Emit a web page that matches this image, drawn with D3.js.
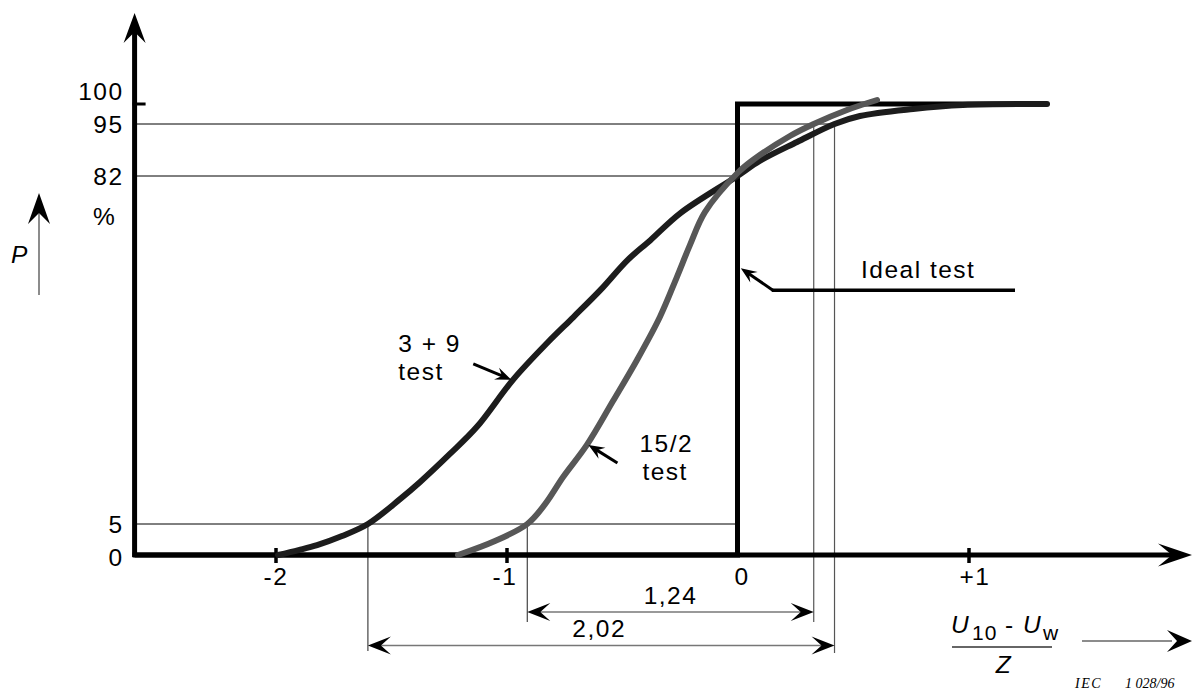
<!DOCTYPE html>
<html>
<head>
<meta charset="utf-8">
<script src="https://cdn.jsdelivr.net/npm/d3@7"></script>
<style>
  html, body { margin: 0; padding: 0; background: #fff; }
  svg { display: block; font-family: "Liberation Sans", Arial, sans-serif; }
  .lbl { font-size: 24.5px; letter-spacing: 1.5px; fill: #000; }
</style>
</head>
<body>
<svg id="chart" width="1196" height="692"></svg>
<script>
// Probability of passing P (%) versus the normalised withstand margin (U10 - Uw) / Z

// axis ticks
const xTicks = [-2, -1, 0, 1];
const xTickLabels = ["-2", "-1", "0", "+1"];
const yLevels = [0, 5, 82, 95, 100];
const yLevelLabels = ["0", "5", "82", "95", "100"];

// "3 + 9 test" characteristic
const test39X = [-1.989, -1.90, -1.820, -1.712, -1.60, -1.461, -1.374, -1.245, -1.128, -0.972, -0.823, -0.71, -0.593, -0.476, -0.377, -0.247, 0, 0.096, 0.258, 0.42, 0.53, 0.76, 0.976, 1.34];
const test39P = [0, 0.8, 1.6, 3.06, 5, 10.5, 14.3, 20.5, 26.5, 36.9, 45.1, 50.8, 56.8, 63.4, 67.8, 73.8, 82, 85.75, 90.5, 95, 97, 98.75, 99.75, 100];

// "15/2 test" characteristic
const test152X = [-1.21, -1.05, -0.91, -0.833, -0.755, -0.652, -0.539, -0.435, -0.336, -0.262, -0.206, -0.141, 0, 0.067, 0.227, 0.33, 0.474, 0.604];
const test152P = [0, 2.26, 5, 9.4, 15.4, 22.5, 32.2, 41.3, 50.8, 59.7, 66.7, 74.0, 82.75, 86, 92, 95, 98.5, 101];

// ideal test: step at zero
const idealX = [-2.61, 0, 0, 1.34];
const idealP = [0, 0, 100, 100];

// 5 % to 95 % spread of each test
const spreadNames = ["15/2", "3 + 9"];
const spreadLabels = ["1,24", "2,02"];
const spreadStart = [-0.91, -1.60];
const spreadWidth = [1.24, 2.02];

// curve annotations: where each arrow points on its curve
const noteNames = ["3 + 9 test", "15/2 test", "Ideal test"];
const noteX = [-0.975, -0.654, 0.01];
const noteP = [36.9, 22.5, 61.6];

const svg = d3.select("#chart");

// scales (the drawing is stretched non-uniformly in P)
const x = d3.scaleLinear().domain([-2, 1]).range([275.5, 968.5]);
const y = d3.scaleLinear().domain(yLevels).range([555, 524, 176, 124, 104]);

const xLeft = -2.61;
const axisX = x(xLeft);
const axisY = y(0);

// notched arrowhead pointing along +x, tip at origin
function dart(len, half, notch) {
  return `M0,0 L${-len},${-half} L${-notch},0 L${-len},${half} Z`;
}
function arrowHead(g, tx, ty, angleDeg, len, half, notch, fill) {
  g.append("path")
    .attr("d", dart(len, half, notch))
    .attr("transform", `translate(${tx},${ty}) rotate(${angleDeg})`)
    .attr("fill", fill || "#000");
}

// ---- thin reference lines ----
const ref = svg.append("g");
const sIdx152 = 0, sIdx39 = 1;
const x5_152 = x(spreadStart[sIdx152]);
const x95_152 = x(spreadStart[sIdx152] + spreadWidth[sIdx152]);
const x5_39 = x(spreadStart[sIdx39]);
const x95_39 = x(spreadStart[sIdx39] + spreadWidth[sIdx39]);

// horizontal levels
ref.append("line").attr("x1", axisX).attr("x2", x95_39).attr("y1", y(95)).attr("y2", y(95))
  .attr("stroke", "#000").attr("stroke-width", 1);
ref.append("line").attr("x1", axisX).attr("x2", x(0)).attr("y1", y(82)).attr("y2", y(82))
  .attr("stroke", "#000").attr("stroke-width", 1);
ref.append("line").attr("x1", axisX).attr("x2", x(0)).attr("y1", y(5)).attr("y2", y(5))
  .attr("stroke", "#000").attr("stroke-width", 1);

// dimension rows
const dimY = [612, 645.5];
const extEnd = [622, 651];
[[x5_152, x95_152], [x5_39, x95_39]].forEach(([a, b], i) => {
  ref.append("line").attr("x1", a).attr("x2", a).attr("y1", y(5)).attr("y2", extEnd[i])
    .attr("stroke", "#444").attr("stroke-width", 1.2);
  ref.append("line").attr("x1", b).attr("x2", b).attr("y1", y(95)).attr("y2", extEnd[i] + (i ? 2 : 0))
    .attr("stroke", "#555").attr("stroke-width", 1.2);
  ref.append("line").attr("x1", a + 12).attr("x2", b - 12).attr("y1", dimY[i]).attr("y2", dimY[i])
    .attr("stroke", "#777").attr("stroke-width", 1.6);
  arrowHead(ref, a, dimY[i], 180, 23, 9, 13);
  arrowHead(ref, b, dimY[i], 0, 23, 9, 13);
});
ref.append("text").attr("class", "lbl").attr("text-anchor", "middle")
  .attr("x", (x5_152 + x95_152) / 2).attr("y", dimY[0] - 8).text(spreadLabels[0]);
ref.append("text").attr("class", "lbl").attr("text-anchor", "middle")
  .attr("x", (x5_39 + x95_39) / 2 - 2).attr("y", dimY[1] - 9).text(spreadLabels[1]);

// ---- axes ----
const ax = svg.append("g");
// y axis
ax.append("line").attr("x1", axisX).attr("x2", axisX).attr("y1", axisY + 2).attr("y2", 30)
  .attr("stroke", "#000").attr("stroke-width", 5);
arrowHead(ax, axisX, 13, -90, 30, 11, 19);
// x axis
ax.append("line").attr("x1", axisX - 2).attr("x2", 1175).attr("y1", axisY).attr("y2", axisY)
  .attr("stroke", "#000").attr("stroke-width", 5);
arrowHead(ax, 1192, axisY, 0, 34, 11.5, 20);

// x ticks and labels through d3.axisBottom
const xAxis = d3.axisBottom(x)
  .tickValues(xTicks)
  .tickFormat((d, i) => xTickLabels[i])
  .tickSizeInner(15).tickSizeOuter(0).tickPadding(5);
const gx = svg.append("g").attr("transform", `translate(0,${axisY - 7})`).call(xAxis);
gx.select(".domain").remove();
gx.selectAll(".tick line").attr("stroke", "#000").attr("stroke-width", 3.5)
  .filter(d => d === 0).remove();
gx.selectAll(".tick text").attr("class", "lbl").attr("fill", "#000")
  .attr("dx", d => d === 0 ? 4 : d === 1 ? 6 : d === -1 ? -2 : 0);
gx.attr("font-size", null).attr("font-family", null);

// y level labels through d3.axisLeft
const yAxis = d3.axisLeft(y)
  .tickValues(yLevels)
  .tickFormat((d, i) => yLevelLabels[i])
  .tickSize(0).tickPadding(11);
const gy = svg.append("g").attr("transform", `translate(${axisX},0)`).call(yAxis);
gy.select(".domain").remove();
gy.selectAll(".tick line").remove();
gy.selectAll(".tick text").attr("class", "lbl").attr("fill", "#000")
  .attr("dy", d => d === 100 ? "-0.17em" : d === 0 ? "0.42em" : "0.33em");
gy.attr("font-size", null).attr("font-family", null);
// short tick at 100 %
ax.append("line").attr("x1", axisX - 2).attr("x2", axisX + 11).attr("y1", y(100)).attr("y2", y(100))
  .attr("stroke", "#000").attr("stroke-width", 3);

// unit and quantity on the y side
svg.append("text").attr("class", "lbl").attr("x", 93).attr("y", 225).text("%");
svg.append("line").attr("x1", 39).attr("x2", 39).attr("y1", 295).attr("y2", 210)
  .attr("stroke", "#666").attr("stroke-width", 1.5);
arrowHead(svg, 39, 193, -90, 31, 11, 20);
svg.append("text").attr("class", "lbl").attr("x", 11).attr("y", 263)
  .attr("font-style", "italic").text("P");

// quantity on the x side: (U10 - Uw) / Z
const q = svg.append("g");
q.append("text").attr("class", "lbl").attr("x", 951).attr("y", 633).attr("font-style", "italic").text("U");
q.append("text").attr("class", "lbl").attr("x", 972).attr("y", 640).style("font-size", "21px").style("letter-spacing", "1px").text("10");
q.append("text").attr("class", "lbl").attr("x", 1005).attr("y", 633).text("-");
q.append("text").attr("class", "lbl").attr("x", 1023).attr("y", 633).attr("font-style", "italic").text("U");
q.append("text").attr("class", "lbl").attr("x", 1043).attr("y", 640).style("font-size", "21px").text("w");
q.append("line").attr("x1", 952).attr("x2", 1052).attr("y1", 647).attr("y2", 647)
  .attr("stroke", "#333").attr("stroke-width", 1.5);
q.append("text").attr("class", "lbl").attr("x", 1004).attr("y", 673).attr("text-anchor", "middle")
  .attr("font-style", "italic").text("Z");
svg.append("line").attr("x1", 1082).attr("x2", 1172).attr("y1", 641).attr("y2", 641)
  .attr("stroke", "#666").attr("stroke-width", 1.5);
arrowHead(svg, 1192, 641, 0, 25, 11, 15);

// ---- characteristics ----
const line = d3.line()
  .x(d => x(d[0])).y(d => y(d[1]))
  .curve(d3.curveCatmullRom.alpha(0.5));

const ideal = d3.line().x(d => x(d[0])).y(d => y(d[1]));
svg.append("path")
  .attr("d", ideal(d3.zip(idealX, idealP)))
  .attr("fill", "none").attr("stroke", "#000").attr("stroke-width", 5)
  .attr("stroke-linejoin", "miter");

svg.append("path")
  .attr("d", line(d3.zip(test39X, test39P)))
  .attr("fill", "none").attr("stroke", "#1c1c1c").attr("stroke-width", 6)
  .attr("stroke-linecap", "round").attr("stroke-linejoin", "round");

svg.append("path")
  .attr("d", line(d3.zip(test152X, test152P)))
  .attr("fill", "none").attr("stroke", "#575757").attr("stroke-width", 6)
  .attr("stroke-linecap", "round").attr("stroke-linejoin", "round");

// ---- annotations ----
const notes = svg.append("g");
function pointer(tx, ty, fx, fy) {
  const ang = Math.atan2(ty - fy, tx - fx);
  notes.append("line").attr("x1", fx).attr("y1", fy)
    .attr("x2", tx - 8 * Math.cos(ang)).attr("y2", ty - 8 * Math.sin(ang))
    .attr("stroke", "#000").attr("stroke-width", 3);
  arrowHead(notes, tx, ty, ang * 180 / Math.PI, 16, 6.5, 10);
}

// 3 + 9 test
{
  const tx = x(noteX[0]) - 1, ty = y(noteP[0]);
  pointer(tx, ty, tx - 38, ty - 16);
  notes.append("text").attr("class", "lbl").attr("x", tx - 113).attr("y", ty - 28).text("3 + 9");
  notes.append("text").attr("class", "lbl").attr("x", tx - 113).attr("y", ty).text("test");
}
// 15/2 test
{
  const tx = x(noteX[1]) + 2, ty = y(noteP[1]);
  pointer(tx, ty, tx + 29, ty + 18);
  notes.append("text").attr("class", "lbl").attr("x", tx + 51).attr("y", ty + 7).text("15/2");
  notes.append("text").attr("class", "lbl").attr("x", tx + 54).attr("y", ty + 35).text("test");
}
// Ideal test
{
  const tx = x(noteX[2]) + 1, ty = y(noteP[2]);
  pointer(tx, ty, tx + 32, ty + 22);
  notes.append("line").attr("x1", tx + 31).attr("x2", 1015).attr("y1", ty + 22).attr("y2", ty + 22)
    .attr("stroke", "#000").attr("stroke-width", 3.5);
  notes.append("text").attr("class", "lbl").attr("x", 861).attr("y", ty + 10).text("Ideal test");
}

// figure reference
svg.append("text").attr("x", 1075).attr("y", 688)
  .style("font-family", "'Liberation Serif', 'Times New Roman', serif")
  .style("font-style", "italic").style("font-size", "14px").style("letter-spacing", "1.5px")
  .text("IEC");
svg.append("text").attr("x", 1125).attr("y", 688)
  .style("font-family", "'Liberation Serif', 'Times New Roman', serif")
  .style("font-style", "italic").style("font-size", "14px")
  .style("white-space", "pre")
  .text("1 028/96");
</script>
</body>
</html>
